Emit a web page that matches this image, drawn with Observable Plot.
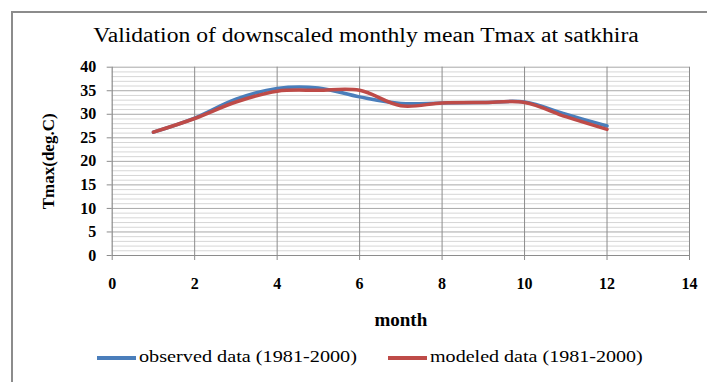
<!DOCTYPE html>
<html><head><meta charset="utf-8">
<script src="https://cdn.jsdelivr.net/npm/d3@7"></script>
<script src="https://cdn.jsdelivr.net/npm/@observablehq/plot@0.6"></script>
<style>
body{margin:0;background:#fff;overflow:hidden;width:707px;height:382px;position:relative;font-family:"Liberation Serif",serif}
#frame{position:absolute;left:11px;top:11px;width:720px;height:400px;border-left:2px solid #8c8c8c;border-top:2px solid #8c8c8c}
#title{position:absolute;left:366px;top:24px;transform:translateX(-50%) scaleX(1.18);white-space:nowrap;font-size:20px;color:#000}
#chart{position:absolute;left:0;top:40px}
#chart svg text{font-family:"Liberation Serif",serif !important;font-variant:normal !important}
.leg{position:absolute;top:347px;font-size:17px;white-space:nowrap;color:#000;transform-origin:0 50%}
.sw{position:absolute;width:39px;height:4px;top:356px}
</style></head>
<body>
<div id="frame"></div>
<div id="title">Validation of downscaled monthly mean Tmax at satkhira</div>
<div id="chart"></div>
<div class="sw" style="left:97px;background:#4a7ebb"></div>
<div class="leg" style="left:139px;transform:scaleX(1.19)">observed data (1981-2000)</div>
<div class="sw" style="left:388px;background:#be4b48"></div>
<div class="leg" style="left:430px;transform:scaleX(1.18)">modeled data (1981-2000)</div>
<script>
const months = [1,2,3,4,5,6,7,8,9,10,11,12];
const observed = [26.2,29.2,33.2,35.5,35.6,33.7,32.3,32.4,32.5,32.6,30.0,27.5];
const modeled  = [26.2,29.1,32.6,34.9,35.1,35.1,31.8,32.4,32.5,32.5,29.5,26.8];
const xTicks = [0,2,4,6,8,10,12,14];
const yTicks = [0,5,10,15,20,25,30,35,40];

const obs = months.map((m,i)=>({month:m, v:observed[i]}));
const mod = months.map((m,i)=>({month:m, v:modeled[i]}));
const minor = d3.range(1,41).filter(d=>d%5!==0);
const major = yTicks.filter(d=>d>0);
const vgrid = xTicks.filter(d=>d>0);
const ff = "Liberation Serif";

const plot = Plot.plot({
  width:707, height:300,
  marginLeft:111.7, marginRight:18, marginTop:26.7, marginBottom:85,
  x:{domain:[0,14]},
  y:{domain:[0,40]},
  style:{fontFamily:ff, fontSize:"16px", fontWeight:"bold", background:"transparent", color:"#000"},
  marks:[
    Plot.ruleY(minor,{stroke:"#d6d6d6", strokeWidth:1}),
    Plot.ruleY(major,{stroke:"#a8a8a8", strokeWidth:1}),
    Plot.ruleX(vgrid,{stroke:"#8c8c8c", strokeWidth:1}),
    Plot.ruleY([0],{stroke:"#8c8c8c", strokeWidth:1.2}),
    Plot.ruleX([0],{stroke:"#8c8c8c", strokeWidth:1.2}),
    Plot.axisY({ticks:yTicks, tickSize:5, tickPadding:11, stroke:"#8c8c8c", fontFamily:ff, fontSize:16, fontWeight:"bold", label:null}),
    Plot.axisY({ticks:[], tickSize:0, fontFamily:ff, fontSize:17, fontWeight:"bold", label:"Tmax(deg.C)", labelAnchor:"center", labelArrow:"none", labelOffset:70}),
    Plot.axisX({ticks:xTicks, tickSize:5, tickPadding:17, stroke:"#8c8c8c", fontFamily:ff, fontSize:16, fontWeight:"bold", label:null}),
    Plot.axisX({ticks:[], tickSize:0, fontFamily:ff, fontSize:19, fontWeight:"bold", label:"month", labelAnchor:"center", labelArrow:"none", labelOffset:70}),
    Plot.line(obs,{x:"month", y:"v", stroke:"#4a7ebb", strokeWidth:3.5, curve:"catmull-rom"}),
    Plot.line(mod,{x:"month", y:"v", stroke:"#be4b48", strokeWidth:3.5, curve:"catmull-rom"})
  ]
});
document.getElementById("chart").appendChild(plot);
</script>
</body></html>
